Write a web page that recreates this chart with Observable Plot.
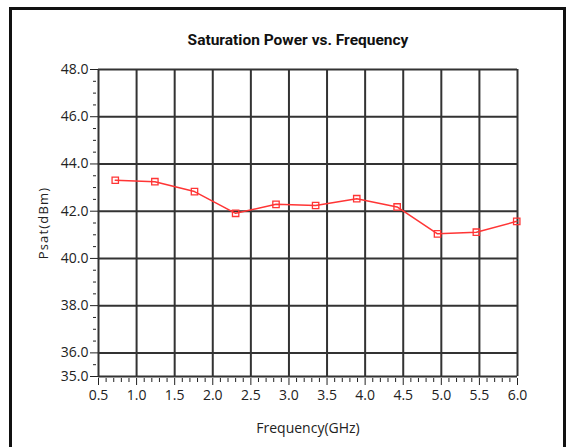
<!DOCTYPE html>
<html>
<head>
<meta charset="utf-8">
<script src="https://cdn.jsdelivr.net/npm/d3@7"></script>
<script src="https://cdn.jsdelivr.net/npm/@observablehq/plot@0.6"></script>
<style>
  body { margin: 0; background: #fff; width: 567px; height: 447px; overflow: hidden; position: relative; font-family: "Open Sans", sans-serif; }
  #frame { position: absolute; left: 9px; top: 7px; width: 557px; height: 500px; border: 3px solid #111; border-bottom: none; box-sizing: border-box; pointer-events: none; }
  #title { position: absolute; left: 0; width: 596px; top: 31px; text-align: center; font: bold 15.5px Roboto, sans-serif; color: #111; z-index: 2; }
  #chart { position: absolute; left: 0; top: 0; }
  #chart svg { overflow: visible; }
</style>
</head>
<body>
<div id="chart"></div>
<div id="title">Saturation Power vs. Frequency</div>
<div id="frame"></div>
<script>
// Measured saturation output power across the band
const freqGHz = [0.72, 1.24, 1.76, 2.30, 2.83, 3.35, 3.89, 4.42, 4.95, 5.46, 5.99];
const psatDbm = [43.31, 43.25, 42.83, 41.91, 42.29, 42.24, 42.53, 42.18, 41.04, 41.11, 41.57];

// Axis ticks
const xMajorTicks = [0.5, 1.0, 1.5, 2.0, 2.5, 3.0, 3.5, 4.0, 4.5, 5.0, 5.5, 6.0];
const xMinorTicks = d3.range(5, 61).map(d => d / 10).filter(d => Math.round(d * 10) % 5 !== 0);
const yMajorTicks = [48, 46, 44, 42, 40, 38, 36, 35];
const yMinorTicks = [47.5, 47, 46.5, 45.5, 45, 44.5, 43.5, 43, 42.5, 41.5, 41, 40.5, 39.5, 39, 38.5, 37.5, 37, 36.5, 35.5];

const data = freqGHz.map((f, i) => ({freq: f, psat: psatDbm[i]}));

const gridStyle = {stroke: "#333", strokeOpacity: 1, strokeWidth: 2};
const red = "#ff3535";

const chart = Plot.plot({
  width: 567,
  height: 447,
  marginLeft: 98,
  marginRight: 50,
  marginTop: 69,
  marginBottom: 71,
  style: {fontFamily: "'Open Sans', sans-serif", fontSize: "14px", color: "#222", background: "transparent"},
  x: {domain: [0.5, 6.0]},
  y: {domain: [35, 48]},
  marks: [
    Plot.gridX(xMajorTicks, gridStyle),
    Plot.gridY(yMajorTicks, gridStyle),
    Plot.axisY(yMajorTicks, {
      tickSize: 8, tickPadding: 2, tickFormat: d3.format(".1f"), stroke: "#222",
      label: "Psat(dBm)", labelAnchor: "center", labelOffset: 60, labelArrow: false
    }),
    Plot.axisY(yMinorTicks, {tickSize: 3, tickFormat: () => "", dx: -2, stroke: "#222", label: null}),
    Plot.axisX(xMajorTicks, {
      tickSize: 7, tickPadding: 5, dy: 2, tickFormat: d3.format(".1f"), stroke: "#222",
      label: "Frequency(GHz)", labelAnchor: "center", labelOffset: 56, labelArrow: false
    }),
    Plot.axisX(xMinorTicks, {tickSize: 4, tickFormat: () => "", dy: 2, stroke: "#222", label: null}),
    Plot.line(data, {x: "freq", y: "psat", stroke: red, strokeWidth: 1.5}),
    Plot.dot(data, {x: "freq", y: "psat", symbol: "square", r: 3.6, stroke: red, strokeWidth: 1.3, fill: "none"})
  ]
});

// Plain axis titles without direction arrows
d3.select(chart).selectAll("[aria-label$='axis label'] text")
  .text(function() { return this.textContent.replace(/\s*[→↑←↓]\s*/g, ""); });
d3.select(chart).selectAll("[aria-label='y-axis label'] text")
  .style("font-size", "13px").style("letter-spacing", "1.2px");
document.getElementById("chart").append(chart);
</script>
</body>
</html>
